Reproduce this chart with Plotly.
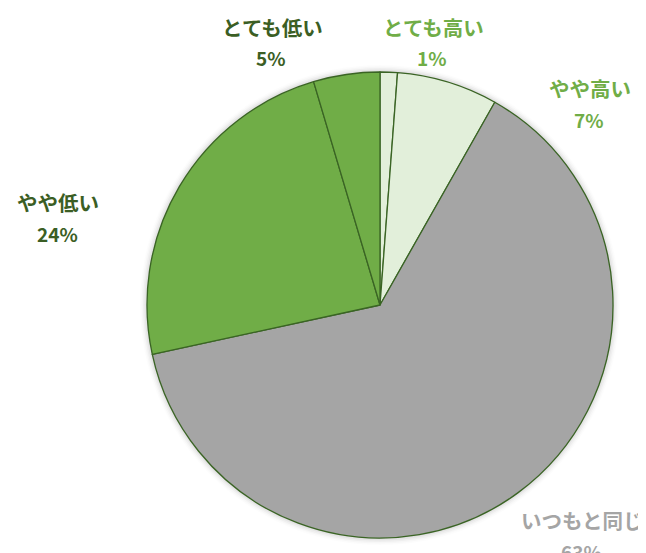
import plotly.graph_objects as go

categories = ["とても高い", "やや高い", "いつもと同じ", "やや低い", "とても低い"]
values = [1.2, 7.0, 63.4, 23.8, 4.6]
pct_labels = ["1%", "7%", "63%", "24%", "5%"]
slice_colors = ["#E2EFDA", "#E2EFDA", "#A5A5A5", "#70AD47", "#70AD47"]
label_colors = ["#70AD47", "#70AD47", "#A5A5A5", "#3B5E24", "#3B5E24"]
# label anchor positions in pixels (x, y of name line) for layout
label_pos = [(433, 27), (590, 88), (582, 520), (58, 202), (272, 27)]

W, H = 646, 553
OFF = 8  # page body offset
cx, cy, r = 380 - OFF, 305 - OFF, 233

fig = go.Figure()
fig.add_trace(go.Pie(
    labels=categories,
    values=values,
    sort=False,
    direction="clockwise",
    rotation=0,
    textinfo="none",
    hoverinfo="label+percent",
    marker=dict(colors=slice_colors, line=dict(color="#3A6424", width=1.3)),
    domain=dict(x=[(cx - r) / W, (cx + r) / W], y=[(H - cy - r) / H, (H - cy + r) / H]),
    showlegend=False,
))

# soft shadow around the pie
for i, a in enumerate([0.05, 0.04, 0.03, 0.02, 0.012]):
    rr = r + 1 + i * 1.5
    fig.add_shape(type="circle", xref="paper", yref="paper", layer="below",
                  x0=(cx - rr) / W, x1=(cx + rr) / W,
                  y0=1 - (cy + rr) / H, y1=1 - (cy - rr) / H,
                  fillcolor=f"rgba(0,0,0,{a})", line=dict(width=0))

font_family = "Noto Sans CJK JP"
for name, pct, col, (x, y) in zip(categories, pct_labels, label_colors, label_pos):
    x, y = x - OFF, y - OFF
    fig.add_annotation(x=x / W, y=1 - y / H, xref="paper", yref="paper", text=f"<b>{name}</b>",
                       showarrow=False, font=dict(family=font_family, size=20.5, color=col),
                       xanchor="center", yanchor="middle")
    fig.add_annotation(x=(x - 1) / W, y=1 - (y + 31) / H, xref="paper", yref="paper", text=f"<b>{pct}</b>",
                       showarrow=False, font=dict(family=font_family, size=19, color=col),
                       xanchor="center", yanchor="middle")

fig.update_layout(width=W, height=H, margin=dict(l=0, r=0, t=0, b=0),
                  paper_bgcolor="white", plot_bgcolor="white")
fig.write_html("out.html")
